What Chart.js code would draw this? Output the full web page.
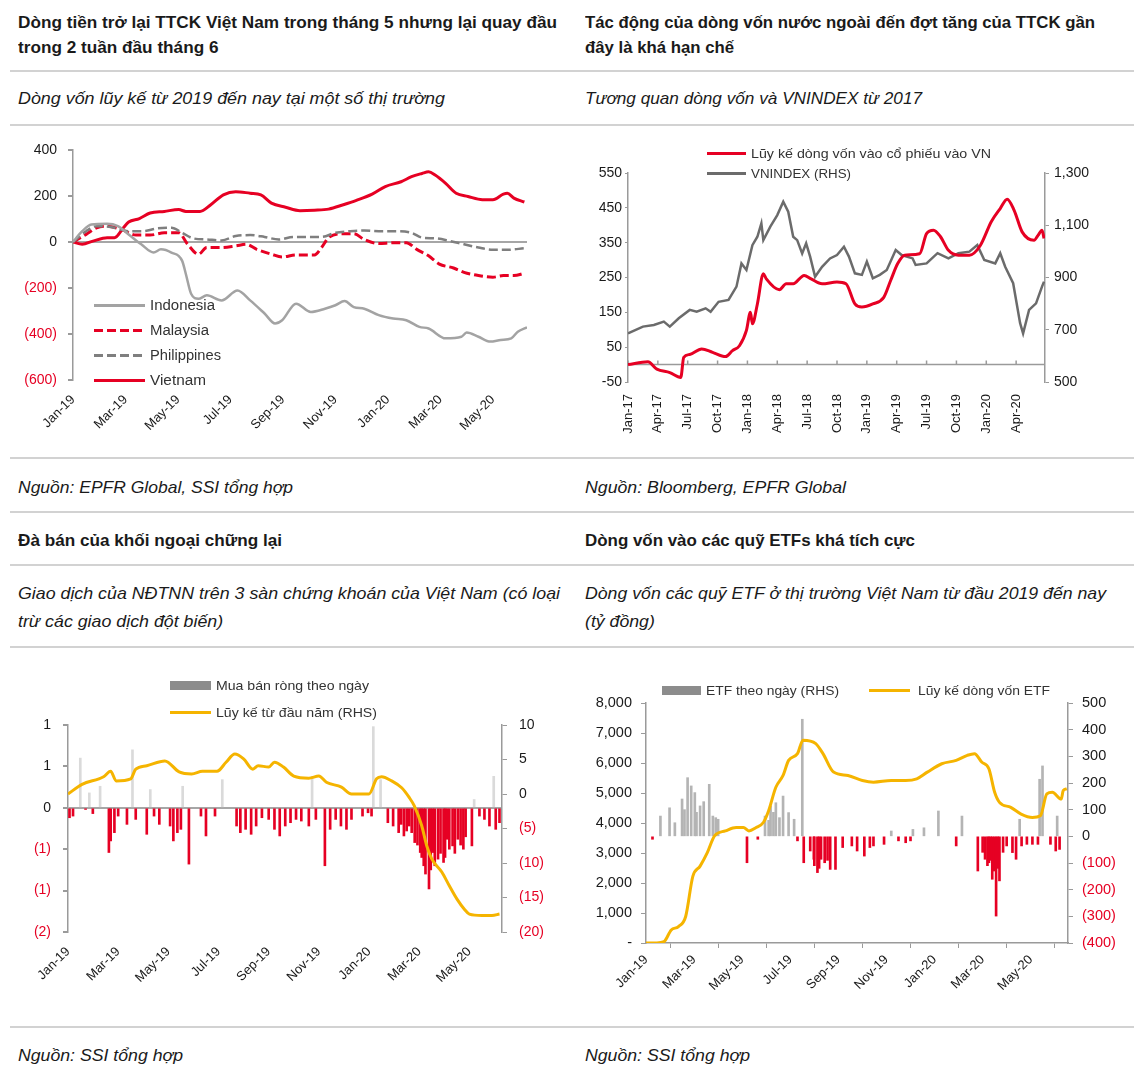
<!DOCTYPE html>
<html>
<head>
<meta charset="utf-8">
<script src="https://cdn.jsdelivr.net/npm/chart.js@4/dist/chart.umd.min.js"></script>
<style>
  body { margin: 0; background: #fff; width: 1134px; height: 1080px; position: relative; overflow: hidden;
         font-family: "Liberation Sans", Arial, sans-serif; color: #1a1a1a; }
  .t { position: absolute; white-space: nowrap; font-size: 17px; line-height: 25px; transform-origin: 0 50%; }
  .b { font-weight: bold; }
  .i { font-style: italic; }
  .rule { position: absolute; left: 10px; right: 0; height: 2px; background: #d2d2d2; }
  canvas { position: absolute; }
  .lg { position: absolute; font-size: 14px; white-space: nowrap; color: #333; display: flex; align-items: center; height: 20px; }
  .lg span.tx { display: inline-block; transform-origin: 0 50%; }
  .sw { display: inline-block; width: 48px; height: 3px; margin-right: 5px; }
</style>
</head>
<body>
<!-- tieu de hang tren -->
<div class="t b" data-w="539" style="left:18px;top:10px">Dòng tiền trở lại TTCK Việt Nam trong tháng 5 nhưng lại quay đầu<br>trong 2 tuần đầu tháng 6</div>
<div class="t b" data-w="510" style="left:585px;top:10px">Tác động của dòng vốn nước ngoài đến đợt tăng của TTCK gần<br>đây là khá hạn chế</div>
<div class="rule" style="top:70px"></div>
<div class="t i" data-w="427" style="left:18px;top:86px">Dòng vốn lũy kế từ 2019 đến nay tại một số thị trường</div>
<div class="t i" data-w="337" style="left:585px;top:86px">Tương quan dòng vốn và VNINDEX từ 2017</div>
<div class="rule" style="top:124px"></div>

<canvas id="c1" width="560" height="320" style="left:0;top:130px"></canvas>
<canvas id="c2" width="564" height="320" style="left:570px;top:130px"></canvas>

<div class="rule" style="top:457px"></div>
<div class="t i" data-w="275" style="left:18px;top:475px">Nguồn: EPFR Global, SSI tổng hợp</div>
<div class="t i" data-w="261" style="left:585px;top:475px">Nguồn: Bloomberg, EPFR Global</div>
<div class="rule" style="top:511px"></div>
<div class="t b" data-w="264" style="left:18px;top:528px">Đà bán của khối ngoại chững lại</div>
<div class="t b" data-w="330" style="left:585px;top:528px">Dòng vốn vào các quỹ ETFs khá tích cực</div>
<div class="rule" style="top:564px"></div>
<div class="t i" data-w="542" style="left:18px;top:580px;line-height:28px">Giao dịch của NĐTNN trên 3 sàn chứng khoán của Việt Nam (có loại<br>trừ các giao dịch đột biến)</div>
<div class="t i" data-w="521" style="left:585px;top:580px;line-height:28px">Dòng vốn các quỹ ETF ở thị trường Việt Nam từ đầu 2019 đến nay<br>(tỷ đồng)</div>
<div class="rule" style="top:646px"></div>

<canvas id="c3" width="560" height="350" style="left:0;top:650px"></canvas>
<canvas id="c4" width="564" height="360" style="left:570px;top:650px"></canvas>

<div class="rule" style="top:1026px"></div>
<div class="t i" data-w="165" style="left:18px;top:1043px">Nguồn: SSI tổng hợp</div>
<div class="t i" data-w="165" style="left:585px;top:1043px">Nguồn: SSI tổng hợp</div>

<!-- chu giai -->
<div class="lg" style="left:94px;top:295px"><span class="sw" style="width:51px;background:#a3a3a3"></span><span class="tx" data-w="65">Indonesia</span></div>
<div class="lg" style="left:94px;top:320px"><span class="sw" style="width:51px;background:repeating-linear-gradient(90deg,#e60023 0 9px,transparent 9px 13px)"></span><span class="tx" data-w="59">Malaysia</span></div>
<div class="lg" style="left:94px;top:345px"><span class="sw" style="width:51px;background:repeating-linear-gradient(90deg,#7f7f7f 0 9px,transparent 9px 13px)"></span><span class="tx" data-w="71">Philippines</span></div>
<div class="lg" style="left:94px;top:370px"><span class="sw" style="width:51px;background:#e60023"></span><span class="tx" data-w="56">Vietnam</span></div>

<div class="lg" style="left:707px;top:143px;font-size:13px"><span class="sw" style="width:39px;background:#e60023"></span><span class="tx" data-w="240">Lũy kế dòng vốn vào cổ phiếu vào VN</span></div>
<div class="lg" style="left:707px;top:163px;font-size:13px"><span class="sw" style="width:39px;background:#6b6b6b"></span><span class="tx" data-w="100">VNINDEX (RHS)</span></div>

<div class="lg" style="left:170px;top:675px;font-size:13px"><span class="sw" style="width:41px;height:9px;background:#8c8c8c"></span><span class="tx" data-w="153">Mua bán ròng theo ngày</span></div>
<div class="lg" style="left:170px;top:702px;font-size:13px"><span class="sw" style="width:41px;background:#f5b400"></span><span class="tx" data-w="161">Lũy kế từ đầu năm (RHS)</span></div>

<div class="lg" style="left:662px;top:680px;font-size:13px"><span class="sw" style="width:39px;height:9px;background:#8c8c8c"></span><span class="tx" data-w="133">ETF theo ngày (RHS)</span></div>
<div class="lg" style="left:869px;top:680px;font-size:13px"><span class="sw" style="width:41px;margin-right:8px;background:#f5b400"></span><span class="tx" data-w="132">Lũy kế dòng vốn ETF</span></div>

<script>
const monthNames = ['Jan','Feb','Mar','Apr','May','Jun','Jul','Aug','Sep','Oct','Nov','Dec'];

// Bieu do 1: dong von luy ke tu Jan-19 (thang ke tu Jan-19, trieu USD)
const vnMonths = [0,0.35,0.76,1.3,1.58,1.92,2.12,2.53,2.94,3.48,4.03,4.3,4.84,5.25,5.73,6.2,6.75,7.16,7.56,8.1,8.65,9.2,9.74,10.3,10.8,11.4,11.9,12.5,12.9,13.3,13.55,13.8,14.2,14.6,15.05,15.6,16.0,16.4,16.55,16.8,17.2];
const vnFlow = [0,-10,4,19,19,62,87,102,126,133,141,133,133,162,205,219,212,205,169,151,136,138,143,162,181,208,241,262,284,298,305,291,255,212,198,184,184,208,212,191,174];
const idMonths = [0,0.35,0.7,1.3,1.71,2.12,2.6,3.07,3.35,3.75,4.16,4.3,4.5,4.78,5.1,5.66,6.27,6.75,7.3,7.7,7.97,8.5,9.06,9.6,10.0,10.35,10.7,11.1,11.65,12.2,12.7,13.2,13.55,14.2,14.8,15.0,15.45,15.9,16.3,16.7,16.95,17.3];
const idFlow = [0,47,76,79,69,33,-10,-46,-32,-46,-82,-139,-225,-247,-232,-254,-211,-254,-311,-354,-340,-268,-304,-290,-275,-257,-283,-290,-318,-333,-340,-369,-376,-419,-412,-394,-412,-433,-426,-419,-390,-371];
const myMonths = [0,0.5,0.9,1.3,1.85,2.4,2.94,3.48,4.03,4.37,4.78,5.1,5.66,6.2,6.6,7.0,7.56,7.97,8.5,9.2,9.47,9.74,10.3,10.7,11.1,11.65,12.2,12.7,13.1,13.55,13.96,14.5,14.9,15.45,16.0,16.4,16.8,17.2];
const myFlow = [0,33,62,69,54,30,30,40,40,-10,-53,-24,-24,-17,-10,-32,-53,-65,-56,-56,-24,19,36,36,11,-7,-3,-3,-32,-60,-96,-113,-132,-146,-153,-146,-146,-136];
const phMonths = [0,0.5,0.9,1.44,2.12,2.67,3.2,3.75,4.16,4.57,5.1,5.66,6.2,6.75,7.3,7.84,8.4,8.9,9.47,10.0,10.56,11.1,11.65,12.2,12.9,13.3,13.8,14.37,14.9,15.45,16.0,16.55,17.2];
const phFlow = [0,47,69,65,47,47,59,62,40,16,11,7,26,30,22,11,22,22,22,40,47,50,47,47,40,19,16,4,-10,-24,-34,-34,-27];

// Bieu do 2: dong von vao VN va VNINDEX (thang ke tu Jan-17)
const flowMonths = [0,2.0,2.9,4.2,5.3,5.6,6.2,7.4,8.5,9.8,10.5,11.2,11.9,12.3,12.5,13.0,13.6,13.9,15.2,15.9,16.6,17.7,18.4,19.5,21.0,21.9,22.8,23.5,24.6,25.7,26.4,27.1,27.8,29.3,30.0,30.7,31.4,32.2,33.2,34.3,35.4,36.5,37.4,38.1,38.8,39.6,40.8,41.2,41.6,41.8];
const flowCum = [0,8,-13,-23,-37,21,29,45,35,23,40,54,98,150,117,174,261,246,215,232,232,256,246,232,237,232,174,165,174,193,242,290,314,318,376,386,367,328,314,314,342,410,448,475,443,381,357,371,386,362];
const vniMonths = [0,1.5,2.6,3.6,4.2,5.1,6.2,6.9,7.8,8.3,9.1,10.1,10.9,11.4,11.9,12.5,13.0,13.4,13.6,14.3,15.0,15.6,16.1,16.6,17.0,17.5,17.9,18.3,18.8,19.5,20.3,21.0,21.7,22.2,22.8,23.5,24.0,24.6,25.3,26.0,26.9,27.5,28.6,28.9,30.0,31.1,32.2,33.2,34.3,35.1,35.8,36.9,37.4,37.9,38.7,39.4,39.7,40.3,41.0,41.6,41.8];
const vniValues = [686,712,718,731,712,744,776,769,782,769,807,814,865,954,929,1024,1056,1107,1043,1095,1139,1190,1152,1056,1043,992,1031,980,903,941,973,986,1018,980,916,910,961,897,910,929,1005,986,973,948,954,993,973,993,999,1024,967,954,993,941,878,725,686,776,801,865,884];

// Bieu do 3: mua ban rong NDTNN (nghin ty, trai) va luy ke tu dau nam (nghin ty, phai)
const netMonths = [0.06,0.2,0.49,0.7,0.85,0.99,1.28,1.63,1.7,1.85,2.0,2.35,2.57,2.7,3.14,3.28,3.43,3.64,4.07,4.2,4.36,4.5,4.57,4.82,5.3,5.5,5.86,6.15,6.72,6.87,7.08,7.3,7.5,7.73,8.0,8.23,8.44,8.66,8.87,9.09,9.3,9.6,9.73,9.88,10.24,10.45,10.67,10.88,11.1,11.3,11.74,11.96,12.1,12.17,12.46,12.75,12.96,13.18,13.28,13.39,13.5,13.6,13.7,13.82,13.93,14.04,14.1,14.18,14.25,14.39,14.46,14.54,14.62,14.75,14.85,14.97,15.03,15.1,15.2,15.33,15.42,15.54,15.65,15.76,15.85,16.1,16.19,16.4,16.6,16.8,16.97,17.05,17.2];
const netDaily = [-0.12,-0.1,0.6,-0.02,0.18,-0.07,0.26,-0.54,-0.4,-0.3,-0.1,-0.2,0.7,-0.14,-0.32,0.22,-0.1,-0.2,-0.22,-0.4,-0.3,-0.26,0.26,-0.68,-0.1,-0.34,-0.1,0.34,-0.22,-0.3,-0.26,-0.32,-0.22,-0.12,-0.14,-0.26,-0.34,-0.22,-0.18,-0.14,-0.16,-0.22,0.38,-0.14,-0.7,-0.26,-0.14,-0.22,-0.26,-0.14,-0.1,-0.06,-0.1,0.98,0.34,-0.18,-0.22,-0.3,-0.2,-0.34,-0.28,-0.22,-0.3,-0.42,-0.45,-0.54,-0.6,-0.7,-0.8,-0.98,-0.75,-0.54,-0.7,-0.62,-0.55,-0.66,-0.6,-0.38,-0.5,-0.46,-0.55,-0.38,-0.45,-0.5,-0.35,-0.46,0.1,-0.1,-0.14,-0.22,0.38,-0.26,-0.18];
const ytdMonths = [0,0.56,1.42,1.7,1.92,2.5,2.7,3.14,3.86,4.43,4.93,5.36,5.94,6.3,6.65,7.0,7.37,7.58,8.0,8.23,8.59,9.0,9.6,10.0,10.3,10.9,11.3,12.0,12.3,12.5,12.9,13.3,13.6,13.8,14.1,14.3,14.5,14.9,15.2,15.5,15.8,16.0,16.5,16.9,17.2];
const ytdCum = [0,1.4,2.5,3.3,1.9,2.2,3.6,4.1,4.8,3.2,2.9,3.3,3.3,4.6,5.8,5.1,3.6,4.1,3.9,4.6,3.9,2.6,2.3,2.6,1.7,1.0,0,0,2.2,2.5,1.9,0.9,-0.5,-1.7,-4.6,-7.5,-9.4,-11.3,-13.3,-15.2,-16.7,-17.4,-17.6,-17.6,-17.4];

// Bieu do 4: dong von ETF theo ngay (ty dong, phai) va luy ke (ty dong, trai)
const etfDayMonths = [0.27,0.6,0.98,1.2,1.5,1.6,1.73,1.88,2.03,2.1,2.25,2.4,2.63,2.78,2.9,3.0,4.2,4.65,4.95,5.1,5.18,5.3,5.4,5.55,5.7,5.93,6.16,6.3,6.5,6.56,6.83,6.98,7.0,7.13,7.2,7.28,7.43,7.55,7.66,7.88,8.18,8.56,8.78,9.08,9.31,9.46,9.9,10.2,10.5,10.8,11.0,11.1,11.56,12.16,12.9,13.14,13.8,14.0,14.1,14.2,14.26,14.33,14.4,14.48,14.56,14.63,14.7,14.85,15.0,15.24,15.39,15.54,15.62,15.84,16.07,16.3,16.37,16.49,16.82,17.04,17.1,17.2];
const etfDaily = [-11,76,107,51,140,100,220,189,164,90,114,130,195,76,70,64,-99,-11,76,60,114,90,126,70,151,89,64,-17,439,-99,-55,-86,-110,-136,-120,-86,-99,-90,-124,-124,-42,-36,-55,-74,-42,-36,-30,20,-17,-24,-17,26,32,95,-36,76,-130,-60,-86,-110,-99,-90,-161,-130,-299,-120,-167,-60,-36,-61,-86,64,-36,-30,-30,-30,214,264,-30,-55,76,-49];
const etfCumMonths = [0,0.45,0.75,1.05,1.35,1.65,1.95,2.25,2.55,2.85,3.3,3.75,4.05,4.28,4.58,4.88,5.1,5.4,5.7,5.93,6.3,6.53,7.06,7.36,7.8,8.4,9.0,9.46,10.2,10.8,11.26,11.7,12.3,12.9,13.36,13.66,13.96,14.26,14.5,14.7,15.17,15.6,16.07,16.4,16.67,16.9,17.27,17.35,17.5];
const etfCum = [0,0,45,436,548,884,2227,2562,3010,3570,3737,3850,3850,3737,3850,4017,4409,5192,5584,6087,6311,6759,6647,6311,5696,5584,5416,5360,5416,5416,5472,5696,5975,6087,6255,6311,6031,5808,5024,4689,4521,4297,4185,4241,4968,5024,4800,5080,5136];

const RED = '#e60023';
const INK = '#1a1a1a';
const AXIS = '#9a9a9a';
const YELLOW = '#f5b400';

Chart.defaults.font.family = '"Liberation Sans", Arial, sans-serif';
Chart.defaults.font.size = 14;
Chart.defaults.color = INK;

// co chu cho vua be rong nhu ban goc (font hep)
document.querySelectorAll('[data-w]').forEach(el => {
  const w = el.getBoundingClientRect().width;
  el.style.transform = 'scaleX(' + (Number(el.dataset.w) / w) + ')';
});

const pts = (xs, ys) => xs.map((x, i) => ({ x: x, y: ys[i] }));
const monthLabel = (v, baseYear) => {
  const m = Math.round(v);
  return monthNames[m % 12] + '-' + String((baseYear + Math.floor(m / 12)) % 100).padStart(2, '0');
};
const paren = v => {
  const s = Math.round(Math.abs(v)).toLocaleString('en-US');
  return v < 0 ? '(' + s + ')' : s;
};
const negRed = c => (c.tick && c.tick.value < 0 ? RED : INK);

const base = {
  animation: false,
  responsive: false,
  events: [],
  plugins: { legend: { display: false }, tooltip: { enabled: false } },
  elements: { point: { radius: 0 } }
};

function monthAxis(max, baseYear, step, rot, h) {
  return {
    type: 'linear', min: 0, max: max, offset: false,
    grid: { display: false }, border: { display: false },
    ticks: { stepSize: step, includeBounds: false, autoSkip: false, minRotation: rot, maxRotation: rot,
             font: { size: 13 }, padding: 4, callback: v => monthLabel(v, baseYear) },
    afterFit: s => { s.height = h; }
  };
}

function line(xs, ys, color, dash, width) {
  return { type: 'line', data: pts(xs, ys), borderColor: color, borderWidth: width, borderDash: dash,
           cubicInterpolationMode: 'monotone', pointRadius: 0, fill: false };
}

// ---- Bieu do 1 ----
new Chart(document.getElementById('c1'), {
  type: 'line',
  data: { datasets: [
    line(idMonths, idFlow, '#a3a3a3', [], 2.5),
    line(phMonths, phFlow, '#7f7f7f', [9, 4], 2.5),
    line(myMonths, myFlow, RED, [9, 4], 3),
    line(vnMonths, vnFlow, RED, [], 3)
  ] },
  options: Object.assign({}, base, {
    layout: { padding: { top: 20, right: 33, left: 0, bottom: 0 } },
    scales: {
      x: monthAxis(17.3, 2019, 2, 45, 70),
      y: {
        min: -600, max: 400,
        ticks: { stepSize: 200, padding: 11, color: negRed, callback: paren },
        grid: { color: c => (c.tick && c.tick.value === 0 ? '#a6a6a6' : 'rgba(0,0,0,0)'), lineWidth: 2,
                tickColor: AXIS, tickLength: 5 },
        border: { color: AXIS, width: 1.5 },
        afterFit: s => { s.width = 73; }
      }
    }
  })
});

// ---- Bieu do 2 ----
const zeroAxis = {
  id: 'zeroAxis',
  beforeDatasetsDraw(chart) {
    const { ctx, chartArea, scales } = chart;
    const y0 = scales.y.getPixelForValue(0);
    ctx.save();
    ctx.strokeStyle = AXIS;
    ctx.lineWidth = 1.5;
    ctx.beginPath();
    ctx.moveTo(chartArea.left, y0);
    ctx.lineTo(chartArea.right, y0);
    scales.x.ticks.forEach(t => {
      const px = scales.x.getPixelForValue(t.value);
      ctx.moveTo(px, y0);
      ctx.lineTo(px, y0 - 4);
    });
    ctx.stroke();
    ctx.restore();
  }
};
new Chart(document.getElementById('c2'), {
  type: 'line',
  data: { datasets: [
    Object.assign(line(flowMonths, flowCum, RED, [], 3), { yAxisID: 'y', order: 0 }),
    Object.assign(line(vniMonths, vniValues, '#6b6b6b', [], 2.5), { yAxisID: 'y1', order: 1, cubicInterpolationMode: 'default', tension: 0 })
  ] },
  options: Object.assign({}, base, {
    layout: { padding: { top: 43, right: 0, left: 0, bottom: 0 } },
    scales: {
      x: monthAxis(41.9, 2017, 3, 90, 68),
      y: {
        position: 'left', min: -50, max: 550,
        ticks: { stepSize: 100, padding: 3 },
        grid: { drawOnChartArea: false, tickColor: AXIS, tickLength: 3 },
        border: { color: AXIS, width: 1.5 },
        afterFit: s => { s.width = 58; }
      },
      y1: {
        position: 'right', min: 500, max: 1300,
        ticks: { stepSize: 200, padding: 5, callback: v => v.toLocaleString('en-US') },
        grid: { drawOnChartArea: false, tickColor: AXIS, tickLength: 4 },
        border: { color: AXIS, width: 1.5 },
        afterFit: s => { s.width = 89; }
      }
    }
  }),
  plugins: [zeroAxis]
});

// ---- Bieu do 3 ----
new Chart(document.getElementById('c3'), {
  type: 'bar',
  data: { datasets: [
    Object.assign(line(ytdMonths, ytdCum, YELLOW, [], 3), { yAxisID: 'y1', order: 0 }),
    { type: 'bar', data: pts(netMonths, netDaily), yAxisID: 'y', order: 1, barThickness: 2, grouped: false,
      backgroundColor: c => (c.raw && c.raw.y < 0 ? RED : '#dadada') }
  ] },
  options: Object.assign({}, base, {
    layout: { padding: { top: 75, right: 0, left: 0, bottom: 0 } },
    scales: {
      x: monthAxis(17.3, 2019, 2, 45, 68),
      y: {
        position: 'left', min: -1.5, max: 1,
        ticks: { stepSize: 0.5, padding: 12, color: negRed, callback: paren },
        grid: { color: c => (c.tick && c.tick.value === 0 ? '#a6a6a6' : 'rgba(0,0,0,0)'), lineWidth: 2,
                tickColor: AXIS, tickLength: 5 },
        border: { color: AXIS, width: 1.5 },
        afterFit: s => { s.width = 68; }
      },
      y1: {
        position: 'right', min: -20, max: 10,
        ticks: { stepSize: 5, padding: 12, color: negRed, callback: paren },
        grid: { drawOnChartArea: false, tickColor: AXIS, tickLength: 5 },
        border: { color: AXIS, width: 1.5 },
        afterFit: s => { s.width = 58; }
      }
    }
  })
});

// ---- Bieu do 4 ----
const etfX = monthAxis(17.55, 2019, 2, 45, 67);
etfX.border = { display: true, color: AXIS, width: 1.5 };
etfX.grid = { display: true, drawOnChartArea: false, tickColor: AXIS, tickLength: 5 };
new Chart(document.getElementById('c4'), {
  type: 'bar',
  data: { datasets: [
    Object.assign(line(etfCumMonths, etfCum, YELLOW, [], 3), { yAxisID: 'y', order: 0 }),
    { type: 'bar', data: pts(etfDayMonths, etfDaily), yAxisID: 'y1', order: 1, barThickness: 2, grouped: false,
      backgroundColor: c => (c.raw && c.raw.y < 0 ? RED : '#b4b4b4') }
  ] },
  options: Object.assign({}, base, {
    layout: { padding: { top: 53, right: 0, left: 0, bottom: 0 } },
    scales: {
      x: etfX,
      y: {
        position: 'left', min: 0, max: 8000,
        ticks: { stepSize: 1000, padding: 9, font: { size: 14.5 }, callback: v => (v === 0 ? '-' : v.toLocaleString('en-US')) },
        grid: { drawOnChartArea: false, tickColor: AXIS, tickLength: 5 },
        border: { color: AXIS, width: 1.5 },
        afterFit: s => { s.width = 76; }
      },
      y1: {
        position: 'right', min: -400, max: 500,
        ticks: { stepSize: 100, padding: 9, font: { size: 14.5 }, color: negRed, callback: paren },
        grid: { drawOnChartArea: false, tickColor: AXIS, tickLength: 5 },
        border: { color: AXIS, width: 1.5 },
        afterFit: s => { s.width = 66; }
      }
    }
  })
});
</script>
</body>
</html>
